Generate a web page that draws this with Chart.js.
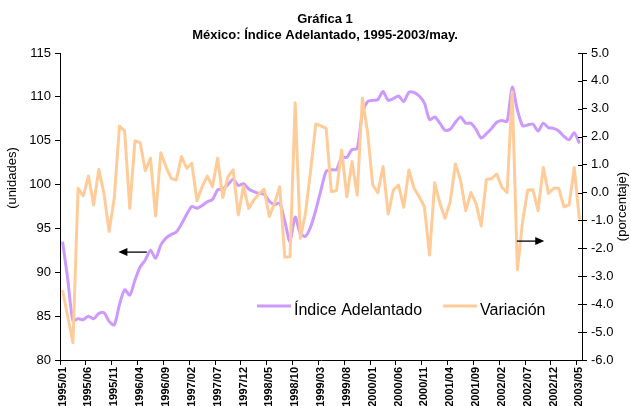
<!DOCTYPE html>
<html>
<head>
<meta charset="utf-8">
<script src="https://cdn.jsdelivr.net/npm/chart.js@4"></script>
<style>
  html, body { margin: 0; padding: 0; background: #fff; }
  canvas { display: block; }
</style>
</head>
<body>
<canvas id="c" width="631" height="406"></canvas>
<script>
// ---- Data ----
const months = [];
for (let y = 1995; y <= 2003; y++) {
  for (let m = 1; m <= 12; m++) {
    if (y === 2003 && m > 5) break;
    months.push(y + '/' + String(m).padStart(2, '0'));
  }
}
const indiceAdelantado = [
  93.5, 89.2, 84.5, 84.7, 84.6, 85.0, 84.7, 85.3, 85.4, 84.4,
  84.0, 86.3, 88.0, 87.4, 89.1, 90.6, 91.4, 92.5, 91.6, 93.1,
  93.9, 94.3, 94.6, 95.5, 96.6, 97.5, 97.3, 97.6, 98.05, 98.3,
  99.4, 99.5, 100.0, 100.6, 99.9, 100.1, 99.5, 99.2, 99.0, 98.9,
  98.1, 97.7, 97.9, 95.8, 93.5, 96.3, 94.4, 94.1, 95.2, 97.1,
  99.4, 101.5, 101.7, 101.7, 103.1, 103.1, 104.0, 104.1, 108.1, 109.45,
  109.6, 109.7, 110.6, 109.6, 109.8, 110.1, 109.45, 110.5, 110.5, 110.1,
  109.3, 107.4, 107.7, 107.0, 106.2, 106.3, 107.1, 107.7, 107.0, 107.0,
  106.3, 105.3, 105.8, 106.4, 107.1, 107.3, 107.2, 111.1, 108.5, 106.7,
  106.8, 106.9, 106.1, 107.0, 106.5, 106.4, 106.1, 105.5, 105.1, 105.9,
  104.7
];
const variacion = [
  -3.5, -4.45, -5.38, 0.15, -0.12, 0.59, -0.45, 0.83, -0.03, -1.4,
  -0.2, 2.38, 2.21, -0.57, 1.85, 1.79, 0.78, 1.23, -0.84, 1.43,
  0.93, 0.51, 0.45, 1.29, 0.87, 1.05, -0.29, 0.21, 0.59, 0.21,
  1.23, -0.17, 0.57, 0.81, -0.8, 0.23, -0.57, -0.27, -0.05, 0.12,
  -0.86, -0.39, 0.21, -2.32, -2.3, 3.22, -1.64, -0.74, 0.81, 2.46,
  2.39, 2.3, 0.03, 0.07, 1.52, -0.15, 1.11, -0.09, 3.38, 2.18,
  0.27, 0.0, 0.93, -0.77, 0.09, 0.27, -0.53, 0.81, 0.15, -0.15,
  -0.51, -2.24, 0.35, -0.39, -0.92, -0.33, 1.02, 0.45, -0.65, 0.0,
  -0.4, -1.2, 0.47, 0.5, 0.66, 0.19, 0.0, 3.61, -2.77, -1.04,
  0.09, 0.1, -0.65, 0.9, -0.03, 0.15, 0.15, -0.51, -0.45, 0.9,
  -0.98
];
const leftTicks = [80, 115, 5];      // min, max, step
const rightTicks = [-6, 5, 1];       // min, max, step
const labelEvery = 5;
// arrows: [fromIndex, toIndex, value, axis]
const arrowLeft = [16.3, 10.8, 92.3, 'y'];
const arrowRight = [87.9, 93.2, -1.74, 'y1'];

const FONT = '"Liberation Sans", Arial, sans-serif';
const PURPLE = '#CC99FF';
const ORANGE = '#FFCC99';

const decor = {
  id: 'decor',
  afterDraw(chart) {
    const c = chart.ctx;
    const ca = chart.chartArea;
    const xs = chart.scales.x;
    c.save();
    c.fillStyle = '#000';
    // title
    c.font = 'bold 13px ' + FONT;
    c.textAlign = 'center';
    c.textBaseline = 'alphabetic';
    const cx = (ca.left + ca.right) / 2 + 4;
    c.fillText('Gráfica 1', cx, 23);
    c.fillText('México: Índice Adelantado, 1995-2003/may.', cx, 39);
    // axis titles
    c.font = '13px ' + FONT;
    c.textBaseline = 'middle';
    c.save();
    c.translate(12, 178);
    c.rotate(-Math.PI / 2);
    c.fillText('(unidades)', 0, 0);
    c.restore();
    c.save();
    c.translate(chart.width - 9, (ca.top + ca.bottom) / 2);
    c.rotate(-Math.PI / 2);
    c.fillText('(porcentaje)', 0, 0);
    c.restore();
    // inward ticks on right axis
    const y1 = chart.scales.y1;
    c.strokeStyle = '#000';
    c.lineWidth = 1;
    for (let v = rightTicks[0]; v <= rightTicks[1]; v += rightTicks[2]) {
      const py = Math.round(y1.getPixelForValue(v)) + 0.5;
      c.beginPath();
      c.moveTo(ca.right - 4, py);
      c.lineTo(ca.right, py);
      c.stroke();
    }
    // legend
    const ly = 306;
    c.lineWidth = 3;
    c.lineCap = 'butt';
    c.strokeStyle = PURPLE;
    c.beginPath(); c.moveTo(ca.left + 197, ly); c.lineTo(ca.left + 231, ly); c.stroke();
    c.strokeStyle = ORANGE;
    c.beginPath(); c.moveTo(ca.left + 383, ly); c.lineTo(ca.left + 417, ly); c.stroke();
    c.font = '16px ' + FONT;
    c.textAlign = 'left';
    c.textBaseline = 'middle';
    c.fillStyle = '#000';
    c.fillText('Índice Adelantado', ca.left + 234, ly + 5);
    c.fillText('Variación', ca.left + 420, ly + 5);
    // arrows
    [arrowLeft, arrowRight].forEach(a => {
      const x0 = xs.getPixelForValue(a[0]);
      const x1 = xs.getPixelForValue(a[1]);
      const py = chart.scales[a[3]].getPixelForValue(a[2]);
      const dir = Math.sign(x1 - x0);
      c.strokeStyle = '#000';
      c.fillStyle = '#000';
      c.lineWidth = 1.3;
      c.beginPath();
      c.moveTo(x0, py);
      c.lineTo(x1 - dir * 7, py);
      c.stroke();
      c.beginPath();
      c.moveTo(x1, py);
      c.lineTo(x1 - dir * 9, py - 4);
      c.lineTo(x1 - dir * 9, py + 4);
      c.closePath();
      c.fill();
    });
    c.restore();
  }
};

new Chart(document.getElementById('c'), {
  type: 'line',
  data: {
    labels: months,
    datasets: [
      {
        label: 'Variación',
        data: variacion,
        yAxisID: 'y1',
        borderColor: ORANGE,
        borderWidth: 3,
        pointRadius: 0,
        tension: 0,
        fill: false,
        order: 0,
        borderJoinStyle: 'round'
      },
      {
        label: 'Índice Adelantado',
        data: indiceAdelantado,
        yAxisID: 'y',
        borderColor: PURPLE,
        borderWidth: 3,
        pointRadius: 0,
        tension: 0.25,
        fill: false,
        order: 1,
        borderJoinStyle: 'round'
      }
    ]
  },
  options: {
    responsive: false,
    animation: false,
    devicePixelRatio: 1,
    layout: { padding: { top: 53, left: 0, right: 0, bottom: 0 } },
    plugins: {
      legend: { display: false },
      title: { display: false },
      tooltip: { enabled: false }
    },
    scales: {
      x: {
        type: 'category',
        offset: true,
        grid: {
          display: true,
          drawOnChartArea: false,
          offset: true,
          tickLength: 5,
          color: '#000',
          tickColor: ctx => (ctx.index % labelEvery === 0 ? '#000' : 'rgba(0,0,0,0)')
        },
        border: { display: true, color: '#000', width: 1 },
        ticks: {
          autoSkip: false,
          maxRotation: 90,
          minRotation: 90,
          padding: 2,
          color: '#000',
          font: { family: FONT, size: 11, weight: 'bold' },
          callback: (v, i) => (i % labelEvery === 0 ? months[i] : '')
        },
        afterFit: s => { s.height = 46; }
      },
      y: {
        position: 'left',
        min: leftTicks[0],
        max: leftTicks[1],
        grid: { drawOnChartArea: false, tickLength: 5, color: '#000' },
        border: { display: true, color: '#000', width: 1 },
        ticks: {
          stepSize: leftTicks[2],
          padding: 4,
          color: '#000',
          font: { family: FONT, size: 13 }
        },
        afterFit: s => { s.width = 60; }
      },
      y1: {
        position: 'right',
        min: rightTicks[0],
        max: rightTicks[1],
        grid: { drawOnChartArea: false, tickLength: 5, color: '#000' },
        border: { display: true, color: '#000', width: 1 },
        ticks: {
          stepSize: rightTicks[2],
          padding: 4,
          color: '#000',
          font: { family: FONT, size: 13 },
          callback: v => Number(v).toFixed(1)
        },
        afterFit: s => { s.width = 49; }
      }
    }
  },
  plugins: [decor]
});
</script>
</body>
</html>
